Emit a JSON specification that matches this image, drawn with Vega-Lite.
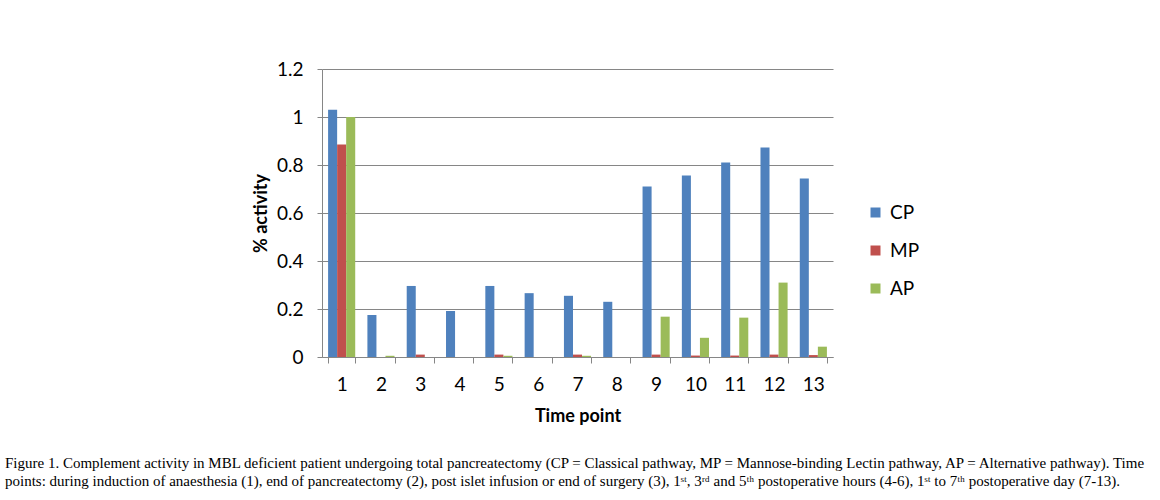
{
  "$schema": "https://vega.github.io/schema/vega-lite/v6.json",
  "width": 511,
  "height": 288,
  "autosize": {"type": "none"},
  "padding": {"left": 322, "top": 69, "right": 327, "bottom": 143},
  "background": "white",
  "title": {
    "text": [
      "Figure 1. Complement activity in MBL deficient patient undergoing total pancreatectomy (CP = Classical pathway, MP = Mannose-binding Lectin pathway, AP = Alternative pathway). Time",
      "points: during induction of anaesthesia (1), end of pancreatectomy (2), post islet infusion or end of surgery (3), 1ˢᵗ, 3ʳᵈ and 5ᵗʰ postoperative hours (4-6), 1ˢᵗ to 7ᵗʰ postoperative day (7-13)."
    ],
    "orient": "bottom",
    "anchor": "start",
    "frame": "group",
    "dx": -317,
    "offset": 31,
    "font": "Liberation Serif",
    "fontSize": 15,
    "fontWeight": "normal",
    "lineHeight": 18,
    "color": "#000000"
  },
  "data": {
    "values": [
      {"t": "1", "pathway": "CP", "value": 1.03},
      {"t": "1", "pathway": "MP", "value": 0.885},
      {"t": "1", "pathway": "AP", "value": 1.0},
      {"t": "2", "pathway": "CP", "value": 0.175},
      {"t": "2", "pathway": "MP", "value": 0.0},
      {"t": "2", "pathway": "AP", "value": 0.005},
      {"t": "3", "pathway": "CP", "value": 0.296},
      {"t": "3", "pathway": "MP", "value": 0.01},
      {"t": "3", "pathway": "AP", "value": 0.0},
      {"t": "4", "pathway": "CP", "value": 0.192},
      {"t": "4", "pathway": "MP", "value": 0.0},
      {"t": "4", "pathway": "AP", "value": 0.0},
      {"t": "5", "pathway": "CP", "value": 0.296},
      {"t": "5", "pathway": "MP", "value": 0.01},
      {"t": "5", "pathway": "AP", "value": 0.005},
      {"t": "6", "pathway": "CP", "value": 0.266},
      {"t": "6", "pathway": "MP", "value": 0.0},
      {"t": "6", "pathway": "AP", "value": 0.0},
      {"t": "7", "pathway": "CP", "value": 0.255},
      {"t": "7", "pathway": "MP", "value": 0.01},
      {"t": "7", "pathway": "AP", "value": 0.005},
      {"t": "8", "pathway": "CP", "value": 0.23},
      {"t": "8", "pathway": "MP", "value": 0.0},
      {"t": "8", "pathway": "AP", "value": 0.0},
      {"t": "9", "pathway": "CP", "value": 0.71},
      {"t": "9", "pathway": "MP", "value": 0.01},
      {"t": "9", "pathway": "AP", "value": 0.168},
      {"t": "10", "pathway": "CP", "value": 0.756},
      {"t": "10", "pathway": "MP", "value": 0.006},
      {"t": "10", "pathway": "AP", "value": 0.08},
      {"t": "11", "pathway": "CP", "value": 0.81},
      {"t": "11", "pathway": "MP", "value": 0.006},
      {"t": "11", "pathway": "AP", "value": 0.164},
      {"t": "12", "pathway": "CP", "value": 0.873},
      {"t": "12", "pathway": "MP", "value": 0.01},
      {"t": "12", "pathway": "AP", "value": 0.31},
      {"t": "13", "pathway": "CP", "value": 0.744},
      {"t": "13", "pathway": "MP", "value": 0.008},
      {"t": "13", "pathway": "AP", "value": 0.043}
    ]
  },
  "mark": {"type": "bar"},
  "encoding": {
    "x": {
      "field": "t",
      "type": "ordinal",
      "sort": ["1","2","3","4","5","6","7","8","9","10","11","12","13"],
      "scale": {"paddingInner": 0.31, "paddingOuter": 0.155},
      "axis": {
        "title": "Time point",
        "labelAngle": 0,
        "tickBand": "extent",
        "tickSize": 6,
        "tickColor": "#868686",
        "domainColor": "#868686",
        "labelFont": "Lato",
        "labelFontSize": 19,
        "labelColor": "#000000",
        "labelPadding": 12,
        "titleFont": "Lato",
        "titleFontSize": 18,
        "titleFontWeight": "bold",
        "titleColor": "#000000",
        "titlePadding": 13
      }
    },
    "xOffset": {
      "field": "pathway",
      "type": "nominal",
      "sort": ["CP", "MP", "AP"],
      "scale": {"paddingInner": 0, "paddingOuter": 0}
    },
    "y": {
      "field": "value",
      "type": "quantitative",
      "scale": {"domain": [0, 1.2], "nice": false},
      "axis": {
        "title": "% activity",
        "values": [0, 0.2, 0.4, 0.6, 0.8, 1, 1.2],
        "format": "~g",
        "grid": true,
        "gridColor": "#868686",
        "gridWidth": 1,
        "tickSize": 5,
        "tickColor": "#868686",
        "domainColor": "#868686",
        "labelFont": "Lato",
        "labelFontSize": 19,
        "labelColor": "#000000",
        "labelPadding": 14,
        "titleFont": "Lato",
        "titleFontSize": 18,
        "titleFontWeight": "bold",
        "titleColor": "#000000",
        "titlePadding": 6
      }
    },
    "color": {
      "field": "pathway",
      "type": "nominal",
      "sort": ["CP", "MP", "AP"],
      "scale": {"domain": ["CP", "MP", "AP"], "range": ["#4F81BD", "#C0504D", "#9BBB59"]},
      "legend": {
        "title": null,
        "orient": "none",
        "legendX": 544,
        "legendY": 134,
        "symbolType": "square",
        "symbolSize": 100,
        "symbolStrokeWidth": 0,
        "rowPadding": 18,
        "labelFont": "Lato",
        "labelFontSize": 19,
        "labelColor": "#000000",
        "labelOffset": 5
      }
    }
  },
  "config": {
    "view": {"stroke": null},
    "axis": {"gridOpacity": 1}
  }
}
